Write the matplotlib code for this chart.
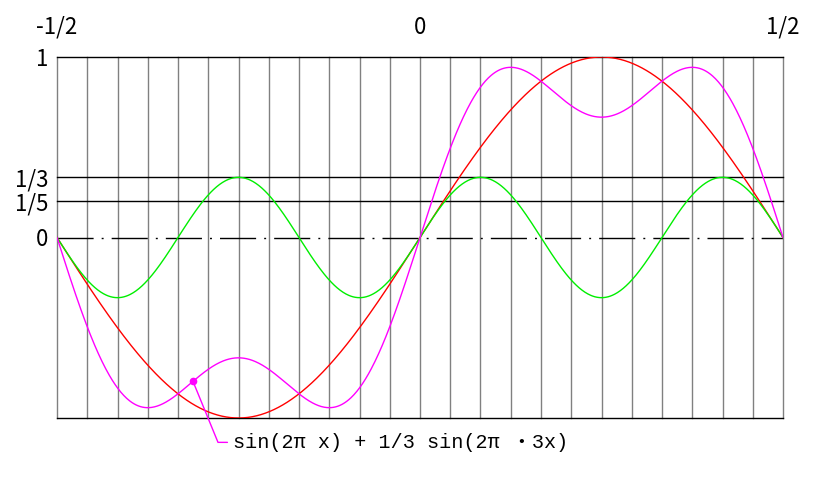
import numpy as np
import matplotlib
matplotlib.use('Agg')
import matplotlib.pyplot as plt

plt.rcParams['font.family'] = ['Noto Sans CJK JP', 'DejaVu Sans']
plt.rcParams['lines.scale_dashes'] = False

# curve definitions: a * sin(2*pi*k*x)
harmonics = [1, 3]
amplitudes = [1, 1/3]
colors = ['#ff0000', '#00ee00']
sum_color = '#ff00ff'

x_ticks = [-0.5, 0, 0.5]
x_tick_labels = ['-1/2', '0', '1/2']
y_ticks = [1, 1/3, 1/5, 0]
y_tick_labels = ['1', '1/3', '1/5', '0']
solid_levels = [1, 1/3, 1/5, -1]
n_divisions = 24

label_text = 'sin(2π x) + 1/3 sin(2π ・3x)'
label_x = -0.3127

fig = plt.figure(figsize=(8.32, 4.8), dpi=100)
ax = fig.add_axes([57/832, 62/480, 726/832, 361/480])

x = np.linspace(-0.5, 0.5, 1001)
total = np.zeros_like(x)
for k, a, c in zip(harmonics, amplitudes, colors):
    y = a * np.sin(2 * np.pi * k * x)
    total += y
    ax.plot(x, y, color=c, lw=1, zorder=3)
ax.plot(x, total, color=sum_color, lw=1, zorder=4)

# grid
for gx in np.linspace(-0.5, 0.5, n_divisions + 1):
    ax.axvline(gx, color='#808080', lw=1, zorder=1, clip_on=False)
for lv in solid_levels:
    ax.axhline(lv, color='black', lw=1, zorder=2, clip_on=False)
ax.axhline(0, color='black', lw=1, zorder=2, dashes=(26, 5.8, 1.4, 5.8))

ax.set_xlim(-0.5, 0.5)
ax.set_ylim(-1, 1)
for s in ax.spines.values():
    s.set_visible(False)

ax.xaxis.tick_top()
ax.set_xticks(x_ticks)
ax.set_xticklabels(x_tick_labels, fontsize=16)
ax.set_yticks(y_ticks)
ax.set_yticklabels(y_tick_labels, fontsize=16)
ax.tick_params(length=0)
ax.tick_params(axis='x', pad=13)
ax.tick_params(axis='y', pad=6)

# label for the sum curve
label_y = sum(a * np.sin(2 * np.pi * k * label_x) for k, a in zip(harmonics, amplitudes))
ax.plot([label_x], [label_y], 'o', color=sum_color, ms=4.5, zorder=5)
ax.annotate(label_text, xy=(label_x, label_y), xytext=(40, -61),
            textcoords='offset pixels', ha='left', va='center',
            fontsize=14.5, family=['Liberation Mono', 'Noto Sans CJK JP'],
            annotation_clip=False,
            arrowprops=dict(arrowstyle='-', color=sum_color, lw=1,
                            shrinkA=2, shrinkB=0, relpos=(0, 0.5),
                            connectionstyle='angle,angleA=0,angleB=-67.7,rad=0'))

fig.savefig('out.png', dpi=100)
